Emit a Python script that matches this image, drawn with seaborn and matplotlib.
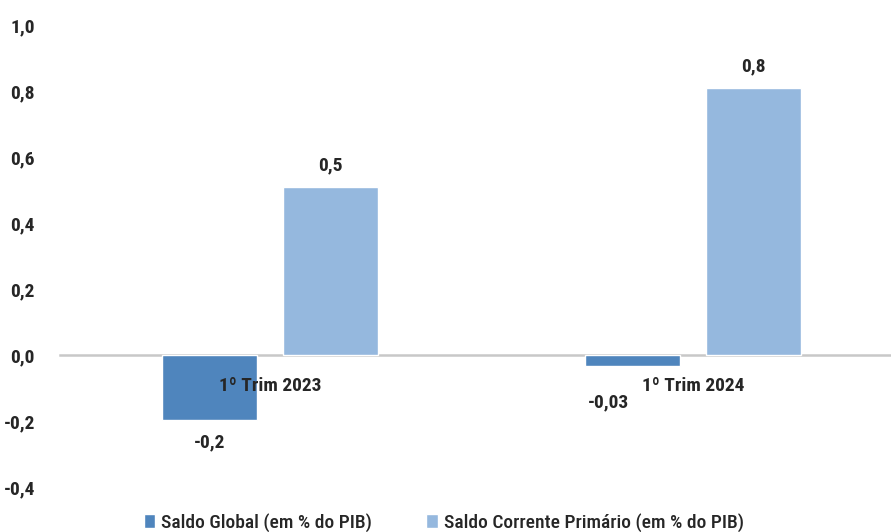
import matplotlib
matplotlib.use("Agg")
import matplotlib.pyplot as plt
from matplotlib import font_manager
import seaborn as sns
import pandas as pd

periods = ["1º Trim 2023", "1º Trim 2024"]
series = ["Saldo Global (em % do PIB)", "Saldo Corrente Primário (em % do PIB)"]
saldo_global = [-0.197, -0.033]
saldo_corrente = [0.51, 0.81]
label_global = ["-0,2", "-0,03"]
label_corrente = ["0,5", "0,8"]
yticks = [-0.4, -0.2, 0.0, 0.2, 0.4, 0.6, 0.8, 1.0]
colors = ["#4F85BD", "#95B8DE"]

sns.set_style("white")

family = "Roboto"
for f in ["Liberation Sans Narrow", "Roboto Condensed", "Roboto"]:
    try:
        font_manager.findfont(f, fallback_to_default=False)
        family = f
        break
    except Exception:
        pass
plt.rcParams["font.family"] = [family, "DejaVu Sans"]
plt.rcParams["font.weight"] = "bold"
plt.rcParams["font.size"] = 14

df = pd.DataFrame({
    "periodo": periods * 2,
    "serie": [series[0]] * 2 + [series[1]] * 2,
    "valor": saldo_global + saldo_corrente,
})

fig = plt.figure(figsize=(8.91, 5.32), dpi=100)
ax = fig.add_axes([0.0673, 0.0846, 0.9327, 0.8684])

sns.barplot(data=df, x="periodo", y="valor", hue="serie", palette=colors,
            saturation=1, width=0.572, gap=0.215, ax=ax, legend=True)

ax.set_ylim(-0.4, 1.0)
ax.set_xlim(-0.496, 1.468)
ax.set_yticks(yticks)
ax.set_yticklabels([f"{t:.1f}".replace(".", ",") for t in yticks])
ax.tick_params(axis="y", length=0, pad=18, labelsize=14)
ax.tick_params(axis="x", length=0, pad=16, labelsize=14)
ax.xaxis.set_zorder(5)
ax.set_xlabel("")
ax.set_ylabel("")

for s in ["top", "right", "left"]:
    ax.spines[s].set_visible(False)
ax.spines["bottom"].set_position(("data", 0))
ax.spines["bottom"].set_color("#C8C8C8")
ax.spines["bottom"].set_linewidth(1.8)
ax.spines["bottom"].set_zorder(0)

# data labels
offsets_global = [(0, -10), (-17, -20)]
for i, v in enumerate(saldo_global):
    ax.annotate(label_global[i], (i - 0.143, v), xytext=offsets_global[i],
                textcoords="offset points", ha="center", va="top",
                fontsize=14, fontweight="bold")
for i, v in enumerate(saldo_corrente):
    ax.annotate(label_corrente[i], (i + 0.143, v), xytext=(0, 9),
                textcoords="offset points", ha="center", va="bottom",
                fontsize=14, fontweight="bold")

handles, labels = ax.get_legend_handles_labels()
ax.legend_.remove()
fig.legend(handles, labels, loc="lower center", bbox_to_anchor=(0.498, -0.033),
           ncol=2, frameon=False, handlelength=0.6, handleheight=0.7,
           handletextpad=0.3, columnspacing=2.8,
           prop={"family": [family, "DejaVu Sans"], "weight": "medium", "size": 14})

fig.savefig("out.png", dpi=100)
